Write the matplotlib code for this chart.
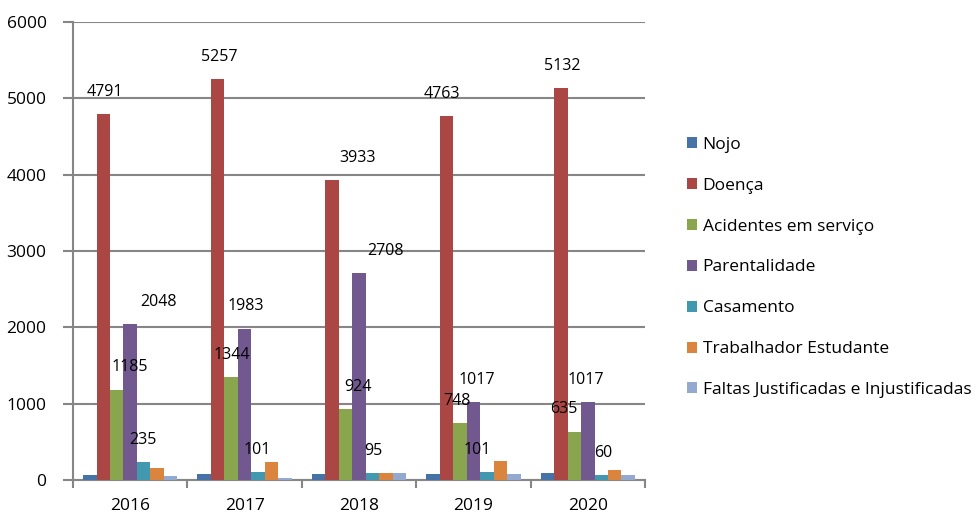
import numpy as np
import matplotlib
matplotlib.use("Agg")
from matplotlib import pyplot as plt

# Data
years = ['2016', '2017', '2018', '2019', '2020']
series = ['Nojo', 'Doença', 'Acidentes em serviço', 'Parentalidade',
          'Casamento', 'Trabalhador Estudante', 'Faltas Justificadas e Injustificadas']
nojo = [65, 75, 75, 80, 95]
doenca = [4791, 5257, 3933, 4763, 5132]
acidentes = [1185, 1344, 924, 748, 635]
parentalidade = [2048, 1983, 2708, 1017, 1017]
casamento = [235, 101, 95, 101, 60]
trabalhador = [153, 235, 90, 250, 125]
faltas = [50, 20, 90, 80, 70]

colors = ['#4572A7', '#AA4643', '#89A54E', '#71588F', '#4198AF', '#DB843D', '#93A9CF']

# label x-offsets (pixels) for labelled series, as placed in the original
label_dx = {
    1: [-25, -25, -1, -32, -26],
    2: [0, -13, -1, -16, -24],
    3: [28, 1, 26, 3, -2],
    4: [13, 13, 14, 4, 15],
}

plt.rcParams['font.family'] = ['Open Sans', 'DejaVu Sans']

W, H = 976, 516
fig = plt.figure(figsize=(W / 100, H / 100), dpi=100)
x0, x1, y0, y1 = 73, 645, 22, 480
ax = fig.add_axes([x0 / W, 1 - y1 / H, (x1 - x0) / W, (y1 - y0) / H])

values = [nojo, doenca, acidentes, parentalidade, casamento, trabalhador, faltas]
x = np.arange(len(years))
w = 1 / 8.5
for i, (vals, name) in enumerate(zip(values, series)):
    ax.bar(x + (i - 3) * w, vals, w, color=colors[i], label=name, zorder=3)

px_per_unit = (x1 - x0) / len(years)
for i, dxs in label_dx.items():
    for j, v in enumerate(values[i]):
        ax.text(x[j] + dxs[j] / px_per_unit, v + 290, str(v),
                ha='center', va='center', fontsize=11.5, color='black', zorder=4)

ax.set_xlim(-0.5, len(years) - 0.5)
ax.set_ylim(0, 6000)
ax.set_yticks(range(0, 6001, 1000))
ax.set_xticks(x)
ax.set_xticklabels(years)
ax.set_xticks(np.arange(-0.5, len(years)), minor=True)
ax.tick_params(axis='x', which='major', length=0, labelsize=12.5, pad=13)
ax.tick_params(axis='x', which='minor', length=6, width=1.5, color='#868686')
ax.tick_params(axis='y', length=7, width=1.5, color='#868686', labelsize=12.5, pad=12)

ax.grid(axis='y', color='#868686', linewidth=1.5, zorder=0)
ax.set_axisbelow(True)
for s in ['top', 'right']:
    ax.spines[s].set_visible(False)
for s in ['left', 'bottom']:
    ax.spines[s].set_color('#868686')
    ax.spines[s].set_linewidth(1.5)

fig.legend(loc='upper left', bbox_to_anchor=(687 / W, 1 - 137 / H), frameon=False,
           fontsize=12.5, handlelength=0.6, handleheight=0.6, handletextpad=0.3,
           labelspacing=1.43, borderaxespad=0, borderpad=0)

fig.savefig('out.png', dpi=100)
